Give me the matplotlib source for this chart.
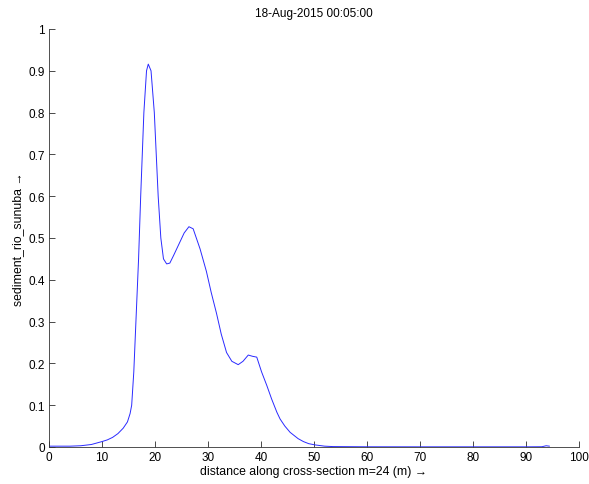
import matplotlib
matplotlib.use("Agg")
import matplotlib.pyplot as plt

# Sediment concentration along the cross-section
distance = [0, 2, 4, 6, 8, 10, 11, 12, 13, 14, 14.8, 15.3, 15.6, 16.0, 16.4, 16.9, 17.3,
            17.9, 18.4, 18.73, 19.25, 19.87, 20.6, 21.1, 21.6, 22.2, 22.8, 23.5,
            24.5, 25.5, 26.4, 27.2, 28.5, 29.7, 30.6, 31.6, 32.5, 33.5, 34.5,
            35.7, 36.6, 37.6, 38.4, 39.2, 40.1, 41.1, 42.0, 43.0, 43.6, 44.5,
            45.5, 46.1, 47.0, 48.0, 49.0, 50.2, 52.0, 53.6, 60, 70, 80, 90,
            93.0, 93.8, 94.4]
sediment = [0.002, 0.002, 0.002, 0.003, 0.006, 0.013, 0.017, 0.023, 0.032, 0.045,
            0.06, 0.08, 0.10, 0.18, 0.30, 0.45, 0.60, 0.80, 0.90, 0.916, 0.90, 0.80,
            0.60, 0.50, 0.45, 0.438, 0.44, 0.458, 0.485, 0.512, 0.527, 0.522,
            0.474, 0.42, 0.37, 0.32, 0.27, 0.226, 0.205, 0.197, 0.205, 0.22,
            0.217, 0.215, 0.18, 0.147, 0.115, 0.083, 0.067, 0.05, 0.035, 0.029,
            0.02, 0.013, 0.008, 0.005, 0.002, 0.001, 0.0005, 0.0004, 0.0004,
            0.0004, 0.0006, 0.003, 0.002]

x_ticks = list(range(0, 101, 10))
y_ticks = [0, 0.1, 0.2, 0.3, 0.4, 0.5, 0.6, 0.7, 0.8, 0.9, 1]
y_tick_labels = ["0", "0.1", "0.2", "0.3", "0.4", "0.5", "0.6", "0.7", "0.8", "0.9", "1"]

plt.rcParams["font.family"] = ["Liberation Sans", "DejaVu Sans"]
plt.rcParams["font.size"] = 8.5

fig = plt.figure(figsize=(5.89, 4.85), dpi=100)
ax = fig.add_axes([49 / 589, 37 / 485, 530 / 589, 418 / 485])

ax.plot(distance, sediment, color="#2a2aff", lw=0.7)

ax.set_xlim(0, 100)
ax.set_ylim(0, 1)
ax.set_xticks(x_ticks)
ax.set_yticks(y_ticks)
ax.set_yticklabels(y_tick_labels)
ax.tick_params(direction="in", length=4, width=0.5, labelsize=8.5, pad=3)

for side in ("top", "right"):
    ax.spines[side].set_visible(False)
for side in ("left", "bottom"):
    ax.spines[side].set_linewidth(0.6)
    ax.spines[side].set_color("#333333")

ax.set_title("18-Aug-2015 00:05:00", fontsize=8.5, pad=9)
ax.set_xlabel("distance along cross-section m=24 (m) \u2192", fontsize=8.8, labelpad=1,
              fontfamily=["Liberation Sans", "DejaVu Sans"])
ax.set_ylabel("sediment_rio_sunuba \u2192", fontsize=8.8, labelpad=3,
              fontfamily=["Liberation Sans", "DejaVu Sans"])

fig.savefig("out.png", dpi=100)
